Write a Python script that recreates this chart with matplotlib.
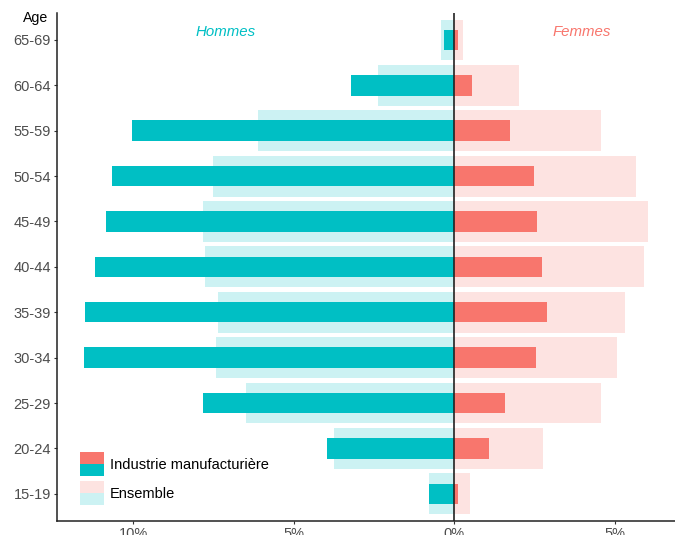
import matplotlib
matplotlib.use("Agg")
import matplotlib.pyplot as plt
from matplotlib.patches import Rectangle, Patch
from matplotlib.legend_handler import HandlerBase
import numpy as np

# tranches d'age, de bas en haut
ages = ["15-19", "20-24", "25-29", "30-34", "35-39", "40-44",
        "45-49", "50-54", "55-59", "60-64", "65-69"]

# parts en %
hommes_industrie = [0.78, 3.96, 7.82, 11.53, 11.50, 11.18, 10.84, 10.65, 10.03, 3.21, 0.31]
hommes_ensemble = [0.78, 3.74, 6.48, 7.41, 7.35, 7.76, 7.82, 7.50, 6.10, 2.37, 0.40]
femmes_industrie = [0.12, 1.09, 1.59, 2.55, 2.90, 2.74, 2.59, 2.49, 1.74, 0.56, 0.12]
femmes_ensemble = [0.50, 2.77, 4.58, 5.08, 5.33, 5.92, 6.04, 5.67, 4.58, 2.02, 0.28]

xticks = [-10, -5, 0, 5]
xtick_labels = ["10%", "5%", "0%", "5%"]

teal = "#00BFC4"
salmon = "#F8766D"
grey_txt = "#4D4D4D"

plt.rcParams["font.family"] = ["Liberation Sans", "DejaVu Sans"]


class SplitHandler(HandlerBase):
    # carre de legende coupe en deux : femmes en haut, hommes en bas
    def __init__(self, alpha):
        super().__init__()
        self.alpha = alpha

    def create_artists(self, legend, orig_handle, xdescent, ydescent,
                       width, height, fontsize, trans):
        top = Rectangle((-xdescent, -ydescent + height / 2), width, height / 2,
                        facecolor=salmon, alpha=self.alpha, lw=0, transform=trans)
        bot = Rectangle((-xdescent, -ydescent), width, height / 2,
                        facecolor=teal, alpha=self.alpha, lw=0, transform=trans)
        return [top, bot]


fig = plt.figure(figsize=(6.75, 5.35), dpi=100)
ax = fig.add_axes([57.3 / 675, 14 / 535, 1 - 57.3 / 675, (521 - 12.7) / 535])

y = np.arange(len(ages))

ax.barh(y, -np.array(hommes_ensemble), height=0.9, color=teal, alpha=0.2, lw=0)
ax.barh(y, femmes_ensemble, height=0.9, color=salmon, alpha=0.2, lw=0)
ax.barh(y, -np.array(hommes_industrie), height=0.45, color=teal, lw=0)
ax.barh(y, femmes_industrie, height=0.45, color=salmon, lw=0)

ax.axvline(0, color="#222222", lw=1.2, zorder=5)

ax.set_xlim(-12.36, 6.88)
ax.set_ylim(-0.6, 10.6)
ax.set_yticks(y)
ax.set_yticklabels(ages)
ax.set_xticks(xticks)
ax.set_xticklabels(xtick_labels)
ax.tick_params(axis="both", labelsize=10.5, labelcolor=grey_txt, color="#333333",
               length=2.5, width=0.8, pad=2)

for s in ["top", "right"]:
    ax.spines[s].set_visible(False)
for s in ["left", "bottom"]:
    ax.spines[s].set_linewidth(1.1)
    ax.spines[s].set_color("#222222")

ax.text(-7.13, 10.17, "Hommes", color=teal, style="italic", fontsize=10.8,
        ha="center", va="center")
ax.text(3.99, 10.17, "Femmes", color=salmon, style="italic", fontsize=10.8,
        ha="center", va="center")

fig.text(48 / 675, 1 - 18 / 535, "Age", fontsize=10.2, color="black",
         ha="right", va="center")

h1, h2 = Patch(), Patch()
ax.legend([h1, h2], ["Industrie manufacturière", "Ensemble"],
          handler_map={h1: SplitHandler(1.0), h2: SplitHandler(0.2)},
          loc="upper left", bbox_to_anchor=(80 / 675, 1 - 452 / 535),
          bbox_transform=fig.transFigure, frameon=False, fontsize=10.5,
          borderpad=0, borderaxespad=0, handlelength=1.646, handleheight=2.155,
          labelspacing=0.34, handletextpad=0.4)

fig.savefig("out.png", dpi=100)
